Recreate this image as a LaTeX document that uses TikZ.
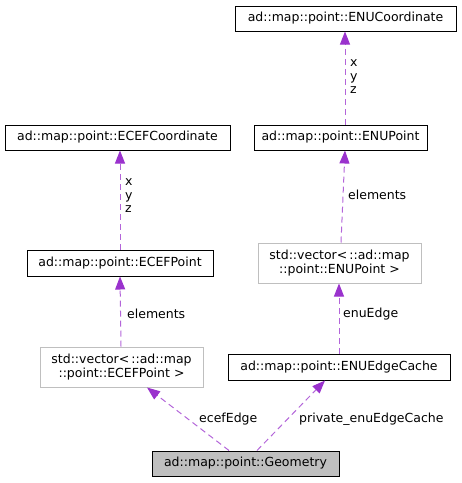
\documentclass[tikz,border=0pt]{standalone}
\usepackage{fontspec}
\setmainfont{DejaVu Sans}
\usetikzlibrary{arrows.meta}
\definecolor{edgepurple}{HTML}{9A32CD}
\definecolor{boxgray}{HTML}{BFBFBF}
\begin{document}
\begin{tikzpicture}[x=1pt,y=-1pt,
  txt/.style={font=\fontsize{12.5pt}{14pt}\selectfont},
  cls/.style={txt, draw=black, line width=1pt, fill=white, inner sep=0pt, minimum height=25pt},
  ext/.style={txt, draw=boxgray, line width=1pt, fill=white, inner sep=0pt, align=center, minimum height=40pt, minimum width=163pt},
  cur/.style={cls, fill=boxgray},
  rel/.style={draw=edgepurple!75, line width=1pt, dash pattern=on 6pt off 4pt, -{Triangle[length=13pt,width=10pt,color=edgepurple,fill=edgepurple]}},
  lbl/.style={txt, inner sep=0pt, anchor=west, align=left}]
\useasboundingbox (0,0) rectangle (462,483);
\node[cls, minimum width=221pt] (enucoord) at (345.5,18.5) {ad::map::point::ENUCoordinate};
\node[cls, minimum width=225pt] (ecefcoord) at (117.5,137.5) {ad::map::point::ECEFCoordinate};
\node[cls, minimum width=173pt] (enupoint) at (340.5,137.5) {ad::map::point::ENUPoint};
\node[cls, minimum width=186pt, minimum height=26pt] (ecefpoint) at (120,263) {ad::map::point::ECEFPoint};
\node[ext] (vecenu) at (339.5,263) {std::vector<\,::ad::map\\::point::ENUPoint >};
\node[ext] (vececef) at (121.5,367) {std::vector<\,::ad::map\\::point::ECEFPoint >};
\node[cls, minimum width=222pt, minimum height=26pt] (edgecache) at (339,367) {ad::map::point::ENUEdgeCache};
\node[cur, minimum width=187pt] (geometry) at (245.5,463.5) {ad::map::point::Geometry};

\draw[rel] ([xshift=4.5pt]enupoint.north) -- ([xshift=-0.5pt]enucoord.south);
\draw[rel] (ecefpoint.north) -- ([xshift=2.5pt]ecefcoord.south);
\draw[rel] ([xshift=1.5pt]vecenu.north) -- ([xshift=4.5pt]enupoint.south);
\draw[rel] ([xshift=-0.5pt]vececef.north) -- (ecefpoint.south);
\draw[rel] (edgecache.north) -- ([xshift=-0.5pt]vecenu.south);
\draw[rel] ([xshift=-16.5pt]geometry.north) -- ([xshift=25.5pt]vececef.south);
\draw[rel] ([xshift=11.5pt]geometry.north) -- ([xshift=-14pt]edgecache.south);

\node[lbl] (xyzenu) at (350,77) {x\\[-0.5pt]y\\[-0.5pt]z};
\node[lbl] (xyzecef) at (125,196) {x\\[-0.5pt]y\\[-0.5pt]z};
\node[lbl] (elenu) at (348,195) {elements};
\node[lbl] (elecef) at (127,314) {elements};
\node[lbl] (enuedge) at (343,314) {enuEdge};
\node[lbl] (ecefedge) at (199,419) {ecefEdge};
\node[lbl] (privedge) at (299,419) {private\_enuEdgeCache};
\end{tikzpicture}
\end{document}
